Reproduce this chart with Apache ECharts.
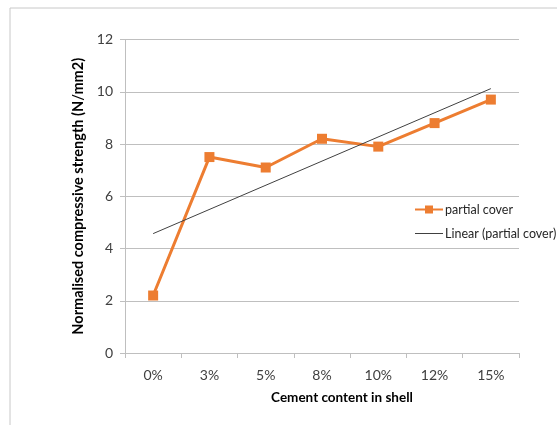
<!DOCTYPE html>
<html>
<head>
<meta charset="utf-8">
<script src="https://cdn.jsdelivr.net/npm/echarts@6/dist/echarts.min.js"></script>
<style>
  html, body { margin: 0; padding: 0; background: #fff; }
  #chart { width: 557px; height: 425px; }
</style>
</head>
<body>
<div id="chart"></div>
<script>
const categories = ['0%', '3%', '5%', '8%', '10%', '12%', '15%']
const partialCover = [2.2, 7.5, 7.1, 8.2, 7.9, 8.8, 9.7]
// trend line end points (first and last category)
const trendEnds = [4.57, 10.12]
const yTicks = { min: 0, max: 12, interval: 2 }

const chart = echarts.init(document.getElementById('chart'))
const font = 'Lato, "Open Sans", sans-serif'

const option = {
  animation: false,
  textStyle: { fontFamily: font },
  graphic: [
    {
      type: 'rect',
      shape: { x: 10, y: 8, width: 700, height: 600 },
      style: { fill: 'none', stroke: '#c8c8c8', lineWidth: 1 },
      silent: true
    }
  ],
  grid: { left: 125, right: 38, top: 39.5, bottom: 72 },
  legend: {
    orient: 'vertical',
    left: 409,
    top: 198,
    itemWidth: 28,
    itemHeight: 10,
    itemGap: 11,
    textStyle: { fontFamily: font, fontSize: 12.5, color: '#262626', padding: [0, 0, 0, -3] },
    data: [
      { name: 'partial cover' },
      { name: 'Linear (partial cover)', icon: 'path://M0,0H28V1H0Z', itemStyle: { color: '#404040' } }
    ]
  },
  xAxis: {
    type: 'category',
    data: categories,
    boundaryGap: true,
    name: 'Cement content in shell',
    nameLocation: 'middle',
    nameGap: 38,
    nameTextStyle: { fontFamily: font, fontSize: 13.5, fontWeight: 'bold', color: '#000', padding: [0, 0, 0, 40] },
    axisLine: { lineStyle: { color: '#bfbfbf' } },
    axisTick: { show: true, length: 5, lineStyle: { color: '#bfbfbf' } },
    axisLabel: { fontFamily: font, fontSize: 14, color: '#404040', margin: 15 }
  },
  yAxis: {
    type: 'value',
    min: yTicks.min,
    max: yTicks.max,
    interval: yTicks.interval,
    name: 'Normalised compressive strength (N/mm2)',
    nameLocation: 'middle',
    nameGap: 37,
    nameTextStyle: { fontFamily: font, fontSize: 14.5, fontWeight: 'bold', color: '#000' },
    axisLine: { show: true, lineStyle: { color: '#bfbfbf' } },
    axisTick: { show: true, length: 5, lineStyle: { color: '#bfbfbf' } },
    axisLabel: { fontFamily: font, fontSize: 14, color: '#404040', margin: 12 },
    splitLine: { lineStyle: { color: '#bfbfbf' } }
  },
  series: [
    {
      name: 'partial cover',
      type: 'line',
      data: partialCover,
      symbol: 'rect',
      symbolSize: 10,
      lineStyle: { color: '#ed7d31', width: 3 },
      itemStyle: { color: '#ed7d31' },
      z: 3
    },
    {
      name: 'Linear (partial cover)',
      type: 'line',
      data: [[0, trendEnds[0]], [categories.length - 1, trendEnds[1]]],
      symbol: 'none',
      lineStyle: { color: '#404040', width: 1 },
      itemStyle: { color: '#404040' },
      z: 4
    }
  ]
}
chart.setOption(option)
</script>
</body>
</html>
